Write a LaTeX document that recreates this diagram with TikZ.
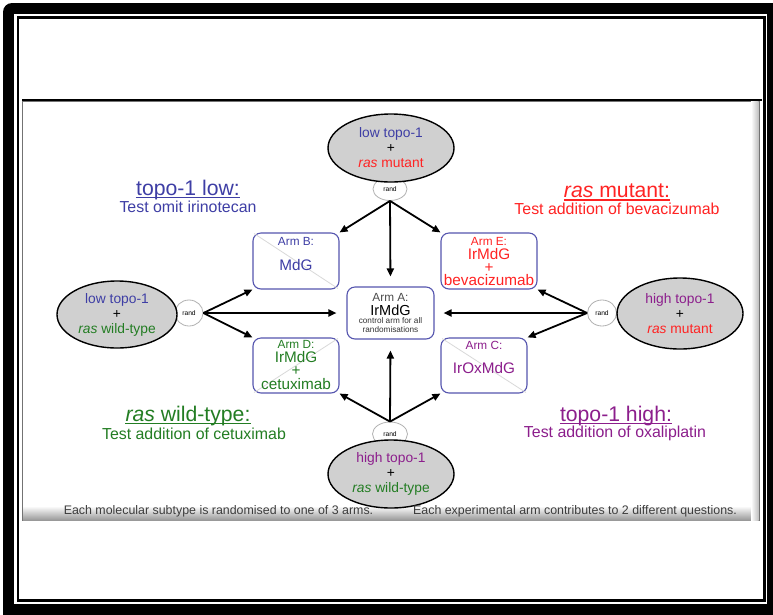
\documentclass[tikz,border=0pt]{standalone}
\usepackage{fontspec}
\setmainfont{Liberation Sans}
\usetikzlibrary{arrows.meta, shapes.geometric, calc}
\definecolor{topoblue}{RGB}{62, 62, 165}
\definecolor{rasred}{RGB}{255, 35, 35}
\definecolor{raswild}{RGB}{35, 125, 35}
\definecolor{topopurple}{RGB}{140, 30, 140}
\definecolor{armedge}{RGB}{85, 85, 175}
\definecolor{subgray}{RGB}{208, 208, 208}
\definecolor{foot}{RGB}{60, 60, 60}

\begin{document}
\begin{tikzpicture}[x=1pt, y=-1pt,
  subtype/.style={ellipse, draw, line width=1.4pt, fill=subgray, inner sep=0pt,
                  minimum width=126pt, minimum height=68pt, align=center,
                  font=\fontsize{13.8}{15}\selectfont},
  randnode/.style={ellipse, draw=black!30, line width=0.8pt, fill=white,
                   inner sep=0pt, font=\fontsize{6.7}{7}\selectfont},
  armbox/.style={draw=armedge, line width=1.1pt, rounded corners=8pt, fill=white},
  armlbl/.style={font=\fontsize{11.8}{13}\selectfont},
  armdrug/.style={font=\fontsize{15.3}{13.2}\selectfont, align=center},
  diag/.style={black!15, line width=0.8pt, shorten <=2pt, shorten >=2pt},
  alloc/.style={-{Triangle[length=8pt,width=7pt]}, line width=1.8pt},
  heading/.style={font=\fontsize{21.2}{22}\selectfont, inner sep=1pt},
  question/.style={font=\fontsize{15.9}{17}\selectfont},
  footnote/.style={font=\fontsize{12.4}{13}\selectfont, text=foot},
]
  \useasboundingbox (0,0) rectangle (773,614);
  % frame
  \fill[black, rounded corners=9pt] (3,3) rectangle (800,640);
  \fill[white] (14,13.5) rectangle (767,604);
  \draw[line width=2.5pt] (18,17.5) rectangle (764.5,600.5);
  \draw[line width=2pt] (22,100) -- (762,100);
  \draw[black!55, line width=0.8pt] (22,101) rectangle (759,520);
  \shade[top color=white, bottom color=black!40] (23,506) rectangle (758.5,520);
  \shade[left color=white, right color=black!25] (751,101) rectangle (758.5,520);

  % arms
  \node[armbox, minimum width=86pt, minimum height=56pt] (armB) at (296,261) {};
  \node[armbox, minimum width=96pt, minimum height=56pt] (armE) at (489,261) {};
  \node[armbox, minimum width=87pt, minimum height=52pt] (armA) at (390.5,313) {};
  \node[armbox, minimum width=86pt, minimum height=55pt] (armD) at (296,365.5) {};
  \node[armbox, minimum width=86pt, minimum height=55pt] (armC) at (484,365.5) {};
  \draw[diag] (armB.north west) -- (armB.south east);
  \draw[diag] (armD.north east) -- (armD.south west);
  \draw[diag] (armC.north west) -- (armC.south east);

  \node[armlbl, text=topoblue] (lblB) at (296,241) {Arm B:};
  \node[armdrug, text=topoblue] (drugB) at (296,265) {MdG};
  \node[armlbl, text=rasred] (lblE) at (489,241.5) {Arm E:};
  \node[armdrug, text=rasred] (drugE) at (489,267) {IrMdG\\+\\bevacizumab};
  \node[armlbl, text=black!70] (lblA) at (390.5,297) {Arm A:};
  \node[font=\fontsize{14.5}{15}\selectfont] (drugA) at (390.5,310) {IrMdG};
  \node[font=\fontsize{8.2}{9}\selectfont, align=center, text=black!80] (noteA)
    at (390.5,325.5) {control arm for all\\randomisations};
  \node[armlbl, text=raswild] (lblD) at (296,344.5) {Arm D:};
  \node[armdrug, text=raswild] (drugD) at (296,370.5) {IrMdG\\+\\cetuximab};
  \node[armlbl, text=topopurple] (lblC) at (484,345) {Arm C:};
  \node[armdrug, text=topopurple] (drugC) at (484,368) {IrOxMdG};

  % molecular subtypes
  \node[randnode, minimum width=34pt, minimum height=23pt] (randT) at (390,189) {rand};
  \node[randnode, minimum width=28pt, minimum height=26pt] (randL) at (189,313) {rand};
  \node[randnode, minimum width=29pt, minimum height=26pt] (randR) at (602,313) {rand};
  \node[randnode, minimum width=35pt, minimum height=24pt] (randB) at (390,434) {rand};

  \node[subtype] (lowmut) at (391,148)
    {\textcolor{topoblue}{low topo-1}\\+\\\textcolor{rasred}{\textit{ras} mutant}};
  \node[subtype, minimum width=120pt, minimum height=67pt] (lowwild) at (117,314.5)
    {\textcolor{topoblue}{low topo-1}\\+\\\textcolor{raswild}{\textit{ras} wild-type}};
  \node[subtype, minimum height=71pt] (highmut) at (680,313.5)
    {\textcolor{topopurple}{high topo-1}\\+\\\textcolor{rasred}{\textit{ras} mutant}};
  \node[subtype] (highwild) at (391,474)
    {\textcolor{topopurple}{high topo-1}\\+\\\textcolor{raswild}{\textit{ras} wild-type}};

  % randomisations
  \draw[alloc] (randT.south) -- (armB.north east);
  \draw[alloc, shorten >=10pt] (randT.south) -- (armA.north);
  \draw[alloc] (randT.south) -- (armE.north west);
  \draw[alloc] (randL.east) -- (armB.south west);
  \draw[alloc, shorten >=10pt] (randL.east) -- (armA.west);
  \draw[alloc] (randL.east) -- (armD.north west);
  \draw[alloc] (randR.west) -- (armE.south east);
  \draw[alloc, shorten >=9pt] (randR.west) -- (armA.east);
  \draw[alloc] (randR.west) -- (armC.north east);
  \draw[alloc] (randB.north) -- (armD.south east);
  \draw[alloc, shorten >=11pt] (randB.north) -- (armA.south);
  \draw[alloc] (randB.north) -- (armC.south west);

  % questions
  \node[heading, text=topoblue] (hLow) at (188,190) {topo-1 low:};
  \node[question, text=topoblue] (qLow) at (188,207) {Test omit irinotecan};
  \node[heading, text=rasred] (hMut) at (617,191) {\textit{ras} mutant:};
  \node[question, text=rasred] (qMut) at (617,209) {Test addition of bevacizumab};
  \node[heading, text=raswild] (hWild) at (188,416) {\textit{ras} wild-type:};
  \node[question, text=raswild] (qWild) at (194,433.5) {Test addition of cetuximab};
  \node[heading, text=topopurple] (hHigh) at (616,416) {topo-1 high:};
  \node[question, text=topopurple] (qHigh) at (615,433.5) {Test addition of oxaliplatin};
  \foreach \h/\col in {hLow/topoblue, hMut/rasred, hWild/raswild, hHigh/topopurple}
    \draw[\col, line width=1.2pt] ($(\h.base west)+(1,2.2)$) -- ($(\h.base east)+(-1,2.2)$);

  \node[footnote] (footL) at (218.5,511) {Each molecular subtype is randomised to one of 3 arms.};
  \node[footnote] (footR) at (575,511) {Each experimental arm contributes to 2 different questions.};
\end{tikzpicture}
\end{document}
